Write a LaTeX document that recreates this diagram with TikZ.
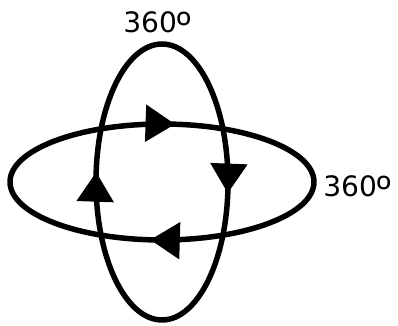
\documentclass[tikz,border=0pt]{standalone}
\usepackage{fontspec}
\setmainfont{DejaVu Sans}
\newfontfamily\ordfont{Noto Sans}
\newcommand{\ordsign}{{\ordfont\fontsize{29}{30}\selectfont\raisebox{-6pt}{º}}}
\usepackage{tikz}
\usetikzlibrary{arrows.meta, decorations.markings}

\tikzset{
    ring/.style={line width=3.9pt, black},
    degree/.style={anchor=base west, inner sep=0pt, font=\fontsize{20}{24}\selectfont}
}

\begin{document}
\begin{tikzpicture}
    % Canvas
    \useasboundingbox (0,0) rectangle (9.95,8.15);
    \coordinate (c) at (4.05,3.6);

    % Horizontal rotation
    \draw[ring, postaction={decorate}, decoration={markings,
        mark=at position 0.231 with {\arrowreversed{Triangle[length=0.74cm, width=0.9cm]}},
        mark=at position 0.733 with {\arrowreversed{Triangle[length=0.74cm, width=0.9cm]}}}]
        (c) ellipse [x radius=3.8, y radius=1.45];

    % Vertical rotation
    \draw[ring, postaction={decorate}, decoration={markings,
        mark=at position 0.485 with {\arrowreversed{Triangle[length=0.74cm, width=0.9cm]}},
        mark=at position 0.983 with {\arrowreversed{Triangle[length=0.74cm, width=0.9cm]}}}]
        (c) ellipse [x radius=1.65, y radius=3.45];

    % Labels
    \node[degree] (top) at (3.075,7.325) {360\ordsign};
    \node[degree] (side) at (8.075,3.225) {360\ordsign};
\end{tikzpicture}
\end{document}
